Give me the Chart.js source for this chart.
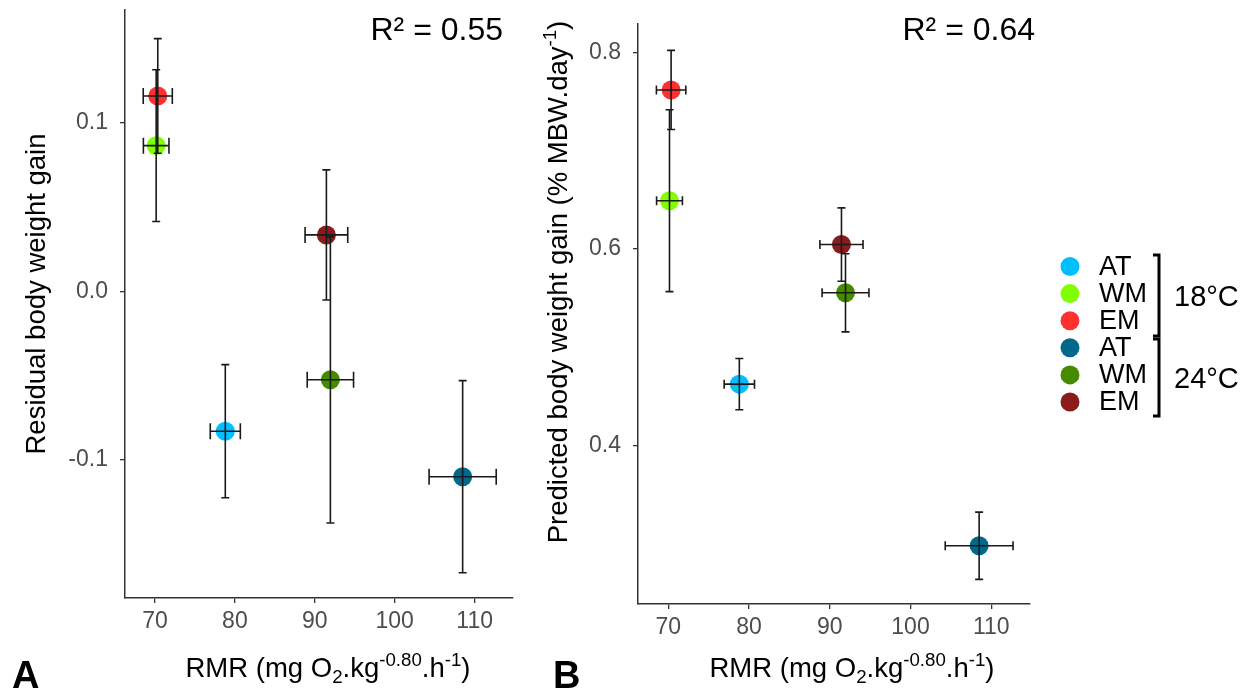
<!DOCTYPE html>
<html>
<head>
<meta charset="utf-8">
<script src="https://cdn.jsdelivr.net/npm/chart.js@4.4.1/dist/chart.umd.min.js"></script>
<style>
  html, body { margin: 0; padding: 0; background: #fff; }
  #wrapA { position: absolute; left: 0; top: 0; }
  #wrapB { position: absolute; left: 528px; top: 0; }
</style>
</head>
<body>
<div id="wrapA"><canvas id="chartA" width="528" height="691"></canvas></div>
<div id="wrapB"><canvas id="chartB" width="730" height="691"></canvas></div>
<script>
// groups (same order in both panels)
const groups = ['AT', 'WM', 'EM', 'AT', 'WM', 'EM'];
const temps = ['18°C', '24°C'];
const colors = ['#00BFFF', '#7FFF00', '#FF3030', '#00688B', '#458B00', '#8B1A1A'];

// RMR (x) with its error
const rmr = [78.8, 70.15, 70.35, 108.5, 91.95, 91.45];
const rmrErr = [1.88, 1.6, 1.82, 4.2, 2.9, 2.67];

// panel A: residual body weight gain
const residual = [-0.083, 0.0865, 0.116, -0.110, -0.0525, 0.0335];
const residualErr = [0.0395, 0.045, 0.034, 0.057, 0.085, 0.0386];

// panel B: predicted body weight gain
const predicted = [0.4624, 0.649, 0.7617, 0.298, 0.5553, 0.6044];
const predictedErr = [0.026, 0.0925, 0.0403, 0.0342, 0.0397, 0.0373];

const xTicks = [70, 80, 90, 100, 110];
const yTicksA = [-0.1, 0.0, 0.1];
const yTicksB = [0.4, 0.6, 0.8];

const FONT = '"Liberation Sans", Arial, sans-serif';
const AXIS = '#333333';
const TITLE_SIZE = 27.5;

function makeDatasets(yvals, yerr) {
  return groups.map((g, i) => ({
    label: g,
    data: [{ x: rmr[i], y: yvals[i], xe: rmrErr[i], ye: yerr[i] }],
    backgroundColor: colors[i],
    borderWidth: 0,
    pointRadius: 9.5,
    pointHoverRadius: 9.5
  }));
}

// error bars drawn over the points, like ggplot
const errorBars = {
  id: 'errorBars',
  afterDatasetsDraw(chart, args, opts) {
    const { ctx, scales: { x, y } } = chart;
    ctx.save();
    ctx.strokeStyle = '#1a1a1a';
    ctx.lineWidth = 1.6;
    chart.data.datasets.forEach(ds => {
      const p = ds.data[0];
      const px = x.getPixelForValue(p.x), py = y.getPixelForValue(p.y);
      const xl = x.getPixelForValue(p.x - p.xe), xr = x.getPixelForValue(p.x + p.xe);
      const yt = y.getPixelForValue(p.y + p.ye), yb = y.getPixelForValue(p.y - p.ye);
      ctx.beginPath();
      // vertical
      ctx.moveTo(px, yt); ctx.lineTo(px, yb);
      ctx.moveTo(px - opts.capV, yt); ctx.lineTo(px + opts.capV, yt);
      ctx.moveTo(px - opts.capV, yb); ctx.lineTo(px + opts.capV, yb);
      // horizontal
      ctx.moveTo(xl, py); ctx.lineTo(xr, py);
      ctx.moveTo(xl, py - opts.capH); ctx.lineTo(xl, py + opts.capH);
      ctx.moveTo(xr, py - opts.capH); ctx.lineTo(xr, py + opts.capH);
      ctx.stroke();
    });
    ctx.restore();
  }
};

// text with sub/superscripts: parts = [[text, 0|1|-1], ...]
function drawRich(ctx, parts, size, cx, base) {
  const small = size * 0.68;
  let w = 0;
  parts.forEach(p => {
    ctx.font = (p[1] ? small : size) + 'px ' + FONT;
    w += ctx.measureText(p[0]).width;
  });
  let x = cx - w / 2;
  ctx.textAlign = 'left';
  ctx.textBaseline = 'alphabetic';
  parts.forEach(p => {
    ctx.font = (p[1] ? small : size) + 'px ' + FONT;
    const dy = p[1] === 1 ? -size * 0.4 : p[1] === -1 ? size * 0.2 : 0;
    ctx.fillText(p[0], x, base + dy);
    x += ctx.measureText(p[0]).width;
  });
}

const rmrTitle = [['RMR (mg O', 0], ['2', -1], ['.kg', 0], ['-0.80', 1], ['.h', 0], ['-1', 1], [')', 0]];

const annotations = {
  id: 'annotations',
  afterDraw(chart, args, o) {
    const ctx = chart.ctx;
    ctx.save();
    ctx.fillStyle = '#000';
    // y title (rotated)
    ctx.save();
    ctx.translate(o.yTitleX, o.yTitleY);
    ctx.rotate(-Math.PI / 2);
    drawRich(ctx, o.yTitle, TITLE_SIZE, 0, TITLE_SIZE * 0.36);
    ctx.restore();
    // x title
    drawRich(ctx, rmrTitle, TITLE_SIZE, o.xTitleX, 677);
    // R squared
    ctx.font = '32px ' + FONT;
    ctx.textAlign = 'right';
    ctx.textBaseline = 'alphabetic';
    ctx.fillText(o.r2, o.r2X, 40);
    // panel letter
    ctx.font = 'bold 38px ' + FONT;
    ctx.textAlign = 'left';
    ctx.fillText(o.letter, o.letterX, 688);

    if (o.legend) {
      const lx = 542, y0 = 266.5, step = 27.1;
      chart.data.datasets.forEach((ds, i) => {
        const yy = y0 + i * step;
        ctx.fillStyle = ds.backgroundColor;
        ctx.beginPath();
        ctx.arc(lx, yy, 9.5, 0, Math.PI * 2);
        ctx.fill();
        ctx.fillStyle = '#000';
        ctx.font = '27px ' + FONT;
        ctx.textBaseline = 'middle';
        ctx.fillText(ds.label, 571, yy + 1);
      });
      ctx.strokeStyle = '#000';
      ctx.lineWidth = 3;
      [[255, 336], [339, 416]].forEach(([a, b]) => {
        ctx.beginPath();
        ctx.moveTo(625, a); ctx.lineTo(631, a); ctx.lineTo(631, b); ctx.lineTo(625, b);
        ctx.stroke();
      });
      ctx.font = '29px ' + FONT;
      ctx.textBaseline = 'middle';
      ctx.fillText(temps[0], 646, 298);
      ctx.fillText(temps[1], 646, 380);
    }
    ctx.restore();
  }
};

// fixed axis sizes so the plot box lands where the reference has it
function fixBox(s, w, h) {
  if (w !== null) s.width = w;
  if (h !== null) s.height = h;
  s.paddingTop = 0; s.paddingBottom = 0; s.paddingLeft = 0; s.paddingRight = 0;
}

function makeOptions(c) {
  const tickFont = { family: FONT, size: 23 };
  return {
    responsive: false,
    animation: false,
    events: [],
    layout: { padding: c.padding },
    plugins: {
      legend: { display: false },
      tooltip: { enabled: false },
      errorBars: { capV: 4, capH: c.capH },
      annotations: c.ann
    },
    scales: {
      x: {
        type: 'linear',
        min: 66.25,
        max: 114.8,
        afterBuildTicks: s => { s.ticks = xTicks.map(v => ({ value: v })); },
        afterFit: s => fixBox(s, null, c.xHeight),
        ticks: { color: '#4d4d4d', font: tickFont, padding: 5, maxRotation: 0, autoSkip: false,
                 callback: v => String(v) },
        grid: { drawOnChartArea: false, tickLength: 5, color: AXIS, lineWidth: 1.3 },
        border: { color: AXIS, width: 1.5 }
      },
      y: {
        type: 'linear',
        min: c.yMin,
        max: c.yMax,
        afterBuildTicks: s => { s.ticks = c.yTicks.map(v => ({ value: v })); },
        afterFit: s => fixBox(s, c.yWidth, null),
        ticks: { color: '#4d4d4d', font: tickFont, padding: 12, autoSkip: false,
                 callback: v => v.toFixed(1) },
        grid: { drawOnChartArea: false, tickLength: 5, color: AXIS, lineWidth: 1.3 },
        border: { color: AXIS, width: 1.5 }
      }
    }
  };
}

new Chart(document.getElementById('chartA'), {
  type: 'scatter',
  data: { datasets: makeDatasets(residual, residualErr) },
  options: makeOptions({
    padding: { left: 0, top: 10, right: 15, bottom: 0 },
    yWidth: 125, xHeight: 93,
    yMin: -0.182, yMax: 0.167, yTicks: yTicksA, capH: 8,
    ann: {
      yTitle: [['Residual body weight gain', 0]], yTitleX: 35, yTitleY: 294,
      xTitleX: 328, r2: 'R² = 0.55', r2X: 503, letter: 'A', letterX: 12, legend: false
    }
  }),
  plugins: [errorBars, annotations]
});

new Chart(document.getElementById('chartB'), {
  type: 'scatter',
  data: { datasets: makeDatasets(predicted, predictedErr) },
  options: makeOptions({
    padding: { left: 0, top: 24, right: 228, bottom: 0 },
    yWidth: 110, xHeight: 87,
    yMin: 0.2387, yMax: 0.8288, yTicks: yTicksB, capH: 4.5,
    ann: {
      yTitle: [['Predicted body weight gain (% MBW.day', 0], ['-1', 1], [')', 0]], yTitleX: 29, yTitleY: 282,
      xTitleX: 324, r2: 'R² = 0.64', r2X: 507, letter: 'B', letterX: 25, legend: true
    }
  }),
  plugins: [errorBars, annotations]
});
</script>
</body>
</html>
